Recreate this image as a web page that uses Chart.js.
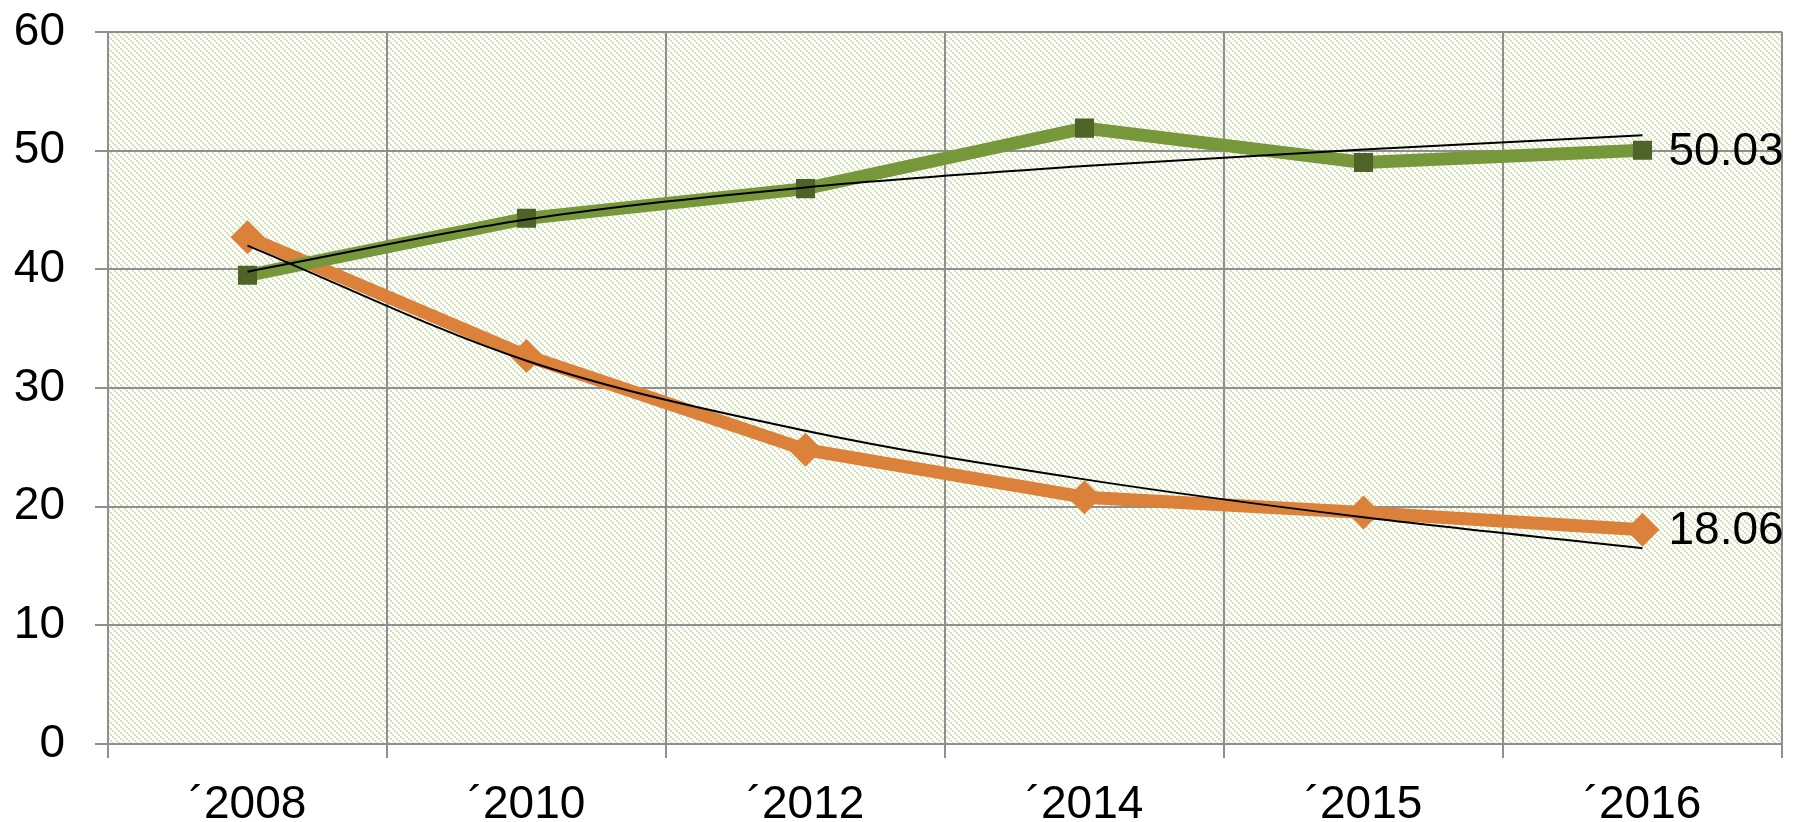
<!DOCTYPE html>
<html>
<head>
<meta charset="utf-8">
<script src="https://cdn.jsdelivr.net/npm/chart.js@4.4.1/dist/chart.umd.min.js"></script>
<style>
  html, body { margin: 0; padding: 0; background: #ffffff; }
  #wrap { width: 1800px; height: 822px; position: relative; }
</style>
</head>
<body>
<div id="wrap"><canvas id="c" width="1800" height="822"></canvas></div>
<script>
const categories = ['\u00B42008', '\u00B42010', '\u00B42012', '\u00B42014', '\u00B42015', '\u00B42016'];
const greenValues = [39.5, 44.3, 46.8, 51.9, 49.0, 50.03];
const orangeValues = [42.7, 32.7, 24.8, 20.8, 19.5, 18.06];
const greenTrend = [39.8, 44.2, 46.9, 48.7, 50.1, 51.3];
const orangeTrend = [42.0, 32.3, 26.4, 22.3, 19.1, 16.5];
const yTicks = [0, 10, 20, 30, 40, 50, 60];

const FONT = '"Liberation Sans", Arial, sans-serif';
const GRID = '#8f8f8f';

function makePattern(ctx) {
  const t = document.createElement('canvas');
  t.width = 6; t.height = 6;
  const g = t.getContext('2d');
  g.fillStyle = '#ffffff';
  g.fillRect(0, 0, 6, 6);
  g.fillStyle = '#d5e3ba';
  for (let i = 0; i < 3; i++) g.fillRect(i * 2, i * 2, 2, 2);
  return ctx.createPattern(t, 'repeat');
}

const bgPlugin = {
  id: 'bgPattern',
  beforeDraw(chart) {
    const { ctx, chartArea: a } = chart;
    ctx.save();
    ctx.fillStyle = '#ffffff';
    ctx.fillRect(0, 0, chart.width, chart.height);
    ctx.fillStyle = makePattern(ctx);
    ctx.fillRect(a.left, a.top, a.right - a.left, a.bottom - a.top);
    ctx.restore();
  }
};

const labelPlugin = {
  id: 'lastLabels',
  afterDatasetsDraw(chart) {
    const { ctx } = chart;
    ctx.save();
    ctx.font = '46px ' + FONT;
    ctx.fillStyle = '#000000';
    ctx.textAlign = 'left';
    ctx.textBaseline = 'middle';
    chart.data.datasets.forEach((ds, i) => {
      if (!ds.showLast) return;
      const meta = chart.getDatasetMeta(i);
      const pt = meta.data[meta.data.length - 1];
      const v = ds.data[ds.data.length - 1];
      ctx.fillText(v.toFixed(2), pt.x + 26, pt.y + 2);
    });
    ctx.restore();
  }
};

new Chart(document.getElementById('c'), {
  type: 'line',
  data: {
    labels: categories,
    datasets: [
      {
        data: greenTrend, borderColor: '#000000', borderWidth: 2, pointRadius: 0,
        tension: 0.4, cubicInterpolationMode: 'monotone', order: 0, fill: false
      },
      {
        data: orangeTrend, borderColor: '#000000', borderWidth: 2, pointRadius: 0,
        tension: 0.4, cubicInterpolationMode: 'monotone', order: 0, fill: false
      },
      {
        data: greenValues, borderColor: '#77973b', borderWidth: 13, tension: 0,
        pointStyle: 'rect', pointRadius: 13.5, pointBackgroundColor: '#4f6228',
        pointBorderWidth: 0, order: 1, fill: false, showLast: true
      },
      {
        data: orangeValues, borderColor: '#dc8139', borderWidth: 13, tension: 0,
        pointStyle: 'rectRot', pointRadius: 17, pointBackgroundColor: '#dc8139',
        pointBorderWidth: 0, order: 2, fill: false, showLast: true
      }
    ]
  },
  options: {
    responsive: false,
    animation: false,
    devicePixelRatio: 1,
    layout: { padding: { top: 32, right: 18, left: 0, bottom: 0 } },
    plugins: { legend: { display: false }, tooltip: { enabled: false } },
    elements: { line: { borderJoinStyle: 'miter', borderCapStyle: 'butt' } },
    scales: {
      x: {
        type: 'category',
        offset: true,
        grid: { offset: true, color: GRID, lineWidth: 2, tickLength: 14, drawTicks: true },
        border: { display: true, color: GRID, width: 2 },
        ticks: { color: '#000000', font: { size: 46, family: FONT }, padding: 20, maxRotation: 0, autoSkip: false },
        afterFit(s) { s.height = 78; s.paddingLeft = 0; s.paddingRight = 0; }
      },
      y: {
        min: 0, max: 60,
        afterBuildTicks(s) { s.ticks = yTicks.map(v => ({ value: v })); },
        grid: { color: GRID, lineWidth: 2, tickLength: 13, drawTicks: true },
        border: { display: true, color: GRID, width: 2 },
        ticks: { color: '#000000', font: { size: 46, family: FONT }, padding: 30 },
        afterFit(s) { s.width = 108; s.paddingTop = 0; s.paddingBottom = 0; }
      }
    }
  },
  plugins: [bgPlugin, labelPlugin]
});
</script>
</body>
</html>
